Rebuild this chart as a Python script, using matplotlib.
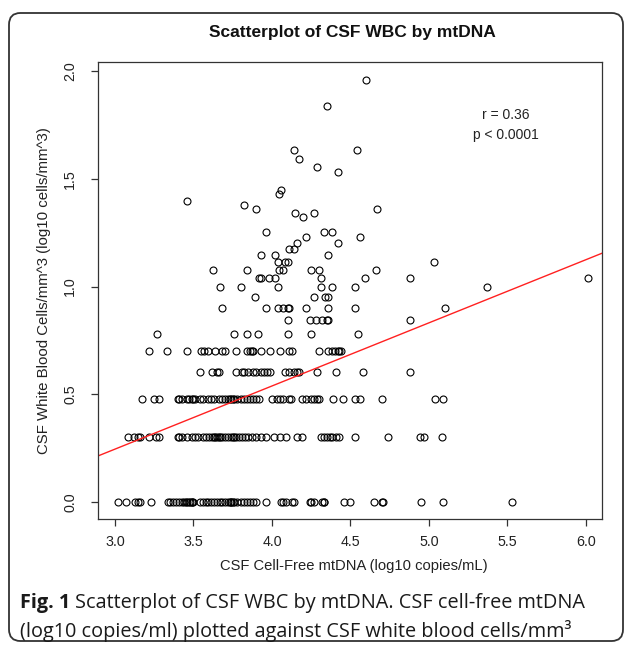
import matplotlib
matplotlib.use("Agg")
import matplotlib.pyplot as plt
from matplotlib.patches import FancyBboxPatch

# ---------------- data ----------------
# CSF cell-free mtDNA (log10 copies/mL) for each WBC level (log10 cells/mm^3)
x_wbc_000 = [3.02, 3.07, 3.13, 3.15, 3.16, 3.23,
             3.34, 3.35, 3.37, 3.39, 3.41, 3.43, 3.44, 3.45, 3.46, 3.47, 3.48,
             3.49, 3.49, 3.50, 3.54, 3.56, 3.58, 3.59, 3.61, 3.63, 3.65, 3.67,
             3.68, 3.70, 3.72, 3.73, 3.74, 3.74, 3.75, 3.76, 3.78, 3.80, 3.82,
             3.84, 3.86, 3.88, 3.90, 3.96,
             4.06, 4.07, 4.09, 4.13, 4.14, 4.24, 4.25, 4.27, 4.32, 4.33, 4.33,
             4.46, 4.50, 4.65, 4.70, 4.71, 4.95, 5.09, 5.53]
x_wbc_030 = [3.08, 3.12, 3.15, 3.16, 3.22, 3.26, 3.28,
             3.40, 3.41, 3.43, 3.46, 3.49, 3.51, 3.53, 3.56, 3.58, 3.60, 3.62,
             3.63, 3.64, 3.65, 3.66, 3.67, 3.68, 3.70, 3.72, 3.74, 3.75, 3.76,
             3.77, 3.79, 3.81, 3.83, 3.85, 3.87, 3.90, 3.93, 3.96, 4.01,
             4.05, 4.09, 4.16, 4.19, 4.31, 4.33, 4.35, 4.37, 4.38, 4.41, 4.43,
             4.53, 4.74, 4.94, 4.97, 5.08]
x_wbc_048 = [3.17, 3.25, 3.28,
             3.40, 3.41, 3.43, 3.46, 3.47, 3.49, 3.50, 3.51, 3.54, 3.56, 3.59,
             3.61, 3.63, 3.66, 3.68, 3.70, 3.72, 3.73, 3.74, 3.75, 3.76, 3.78,
             3.80, 3.82, 3.84, 3.86, 3.88, 3.90, 3.92,
             4.00, 4.03, 4.05, 4.07, 4.11, 4.12, 4.19, 4.22, 4.25, 4.27, 4.29,
             4.30, 4.39, 4.45, 4.53, 4.56, 4.70, 5.04, 5.09]
x_wbc_060 = [3.54, 3.62, 3.65, 3.66, 3.77, 3.81, 3.82, 3.85, 3.88, 3.90, 3.93,
             3.95, 3.97, 3.99, 4.08, 4.11, 4.14, 4.16, 4.17, 4.29, 4.41, 4.58,
             4.88]
x_wbc_070 = [3.22, 3.33, 3.46, 3.55, 3.57, 3.59, 3.64, 3.68, 3.70, 3.77, 3.84,
             3.86, 3.87, 3.88, 3.93, 3.99, 4.05, 4.11, 4.13, 4.30, 4.36, 4.38,
             4.40, 4.42, 4.43, 4.44]
level_000, level_030, level_048, level_060, level_070 = 0.0, 0.301, 0.477, 0.602, 0.699

# sparser points above 0.7
upper_x = [3.27, 3.76, 3.84, 3.91, 4.10, 4.25, 4.55,
           4.10, 4.24, 4.28, 4.32, 4.35, 4.36, 4.88,
           3.68, 3.96, 4.04, 4.07, 4.10, 4.11, 4.22, 4.36, 4.53, 5.10,
           3.89, 4.27, 4.34, 4.36,
           3.67, 3.80, 4.04, 4.31, 4.38, 4.53, 5.37,
           3.92, 3.93, 3.98, 4.02, 4.31, 4.59, 4.88, 6.01,
           3.625, 3.84, 4.045, 4.07, 4.25, 4.30, 4.66,
           4.04, 4.08, 4.10, 5.03,
           3.93, 4.02, 4.36,
           4.11, 4.14,
           4.16, 4.42,
           4.22, 4.56,
           3.96, 4.33, 4.38,
           4.20, 4.145, 4.27, 3.90, 4.67, 3.82, 3.46, 4.045, 4.06,
           4.42, 4.29, 4.17, 4.14, 4.54, 4.35, 4.60]
upper_y = [0.778] * 7 + [0.845] * 7 + [0.903] * 10 + [0.954] * 4 + [1.0] * 7 + \
          [1.041] * 8 + [1.079] * 7 + [1.114] * 4 + [1.146] * 3 + [1.176] * 2 + \
          [1.204] * 2 + [1.230] * 2 + [1.255] * 3 + \
          [1.322, 1.342, 1.342, 1.362, 1.362, 1.380, 1.398, 1.431, 1.447,
           1.531, 1.556, 1.591, 1.633, 1.633, 1.839, 1.959]

# fitted regression line
fit_intercept = -0.633
fit_slope = 0.293

x_ticks = [3.0, 3.5, 4.0, 4.5, 5.0, 5.5, 6.0]
y_ticks = [0.0, 0.5, 1.0, 1.5, 2.0]
annot_r = "r = 0.36"
annot_p = "p < 0.0001"
title = "Scatterplot of CSF WBC by mtDNA"
xlabel = "CSF Cell-Free mtDNA (log10 copies/mL)"
ylabel = "CSF White Blood Cells/mm^3 (log10 cells/mm^3)"

# ---------------- figure ----------------
W, H = 630, 647
fig = plt.figure(figsize=(W / 100, H / 100), dpi=100)
fig.patch.set_facecolor("white")

# rounded outer border
border = FancyBboxPatch((9 / W, 6 / H), (623 - 9) / W, (634 - 6) / H,
                        boxstyle="round,pad=0,rounding_size=0.018",
                        transform=fig.transFigure, fill=False,
                        edgecolor="#333333", linewidth=1.3)
fig.add_artist(border)

left, right, top, bottom = 98.3, 602.3, 61.7, 519.3
ax = fig.add_axes([left / W, 1 - bottom / H, (right - left) / W, (bottom - top) / H])

font = "Liberation Sans"
mk = dict(marker="o", linestyle="none", markerfacecolor="none",
          markeredgecolor="black", markersize=5.0, markeredgewidth=0.8)
for xs, lv in [(x_wbc_000, level_000), (x_wbc_030, level_030),
               (x_wbc_048, level_048), (x_wbc_060, level_060),
               (x_wbc_070, level_070)]:
    ax.plot(xs, [lv] * len(xs), **mk)
ax.plot(upper_x, upper_y, **mk)

ax.axline((0, fit_intercept), slope=fit_slope, color="#ff2020", linewidth=1.0)

ax.set_xlim(2.894, 6.104)
ax.set_ylim(-0.0795, 2.0435)
ax.set_xticks(x_ticks)
ax.set_yticks(y_ticks)
ax.set_xticklabels([f"{v:.1f}" for v in x_ticks], fontfamily=font, fontsize=10.3, color="#222222")
ax.set_yticklabels([f"{v:.1f}" for v in y_ticks], fontfamily=font, fontsize=10.3, color="#222222",
                   rotation=90, va="center")
ax.tick_params(axis="both", direction="out", length=5.2, width=0.9, color="#333333")
ax.tick_params(axis="x", pad=6)
ax.tick_params(axis="y", pad=10)
for s in ax.spines.values():
    s.set_linewidth(0.9)
    s.set_color("#333333")

ax.text(5.49, 1.795, annot_r, ha="center", va="center", fontsize=10, fontfamily=font, color="#222222")
ax.text(5.49, 1.703, annot_p, ha="center", va="center", fontsize=10, fontfamily=font, color="#222222")

fig.text(352 / W, 1 - 33 / H, title, ha="center", va="center", fontsize=12.5,
         fontweight="bold", fontfamily=font, color="#111111")
fig.text(354 / W, 1 - 566 / H, xlabel, ha="center", va="center", fontsize=10.6,
         fontfamily=font, color="#222222")
fig.text(44 / W, 1 - 291 / H, ylabel, ha="center", va="center", rotation=90, fontsize=10.8,
         fontfamily=font, color="#222222")

# caption
cap_font = "Open Sans"
cap_size = 14.3
t1 = fig.text(20 / W, 1 - 603 / H, "Fig. 1", ha="left", va="center", fontsize=cap_size,
              fontweight="bold", fontfamily=cap_font, color="#1a1a1a")
fig.canvas.draw()
bb = t1.get_window_extent(renderer=fig.canvas.get_renderer())
fig.text((bb.x1 + 5) / W, 1 - 603 / H,
         "Scatterplot of CSF WBC by mtDNA. CSF cell-free mtDNA",
         ha="left", va="center", fontsize=cap_size, fontfamily=cap_font, color="#1a1a1a")
fig.text(20 / W, 1 - 631 / H,
         "(log10 copies/ml) plotted against CSF white blood cells/mm\u00b3",
         ha="left", va="center", fontsize=cap_size, fontfamily=cap_font, color="#1a1a1a")

fig.savefig("out.png", dpi=100, facecolor="white")
